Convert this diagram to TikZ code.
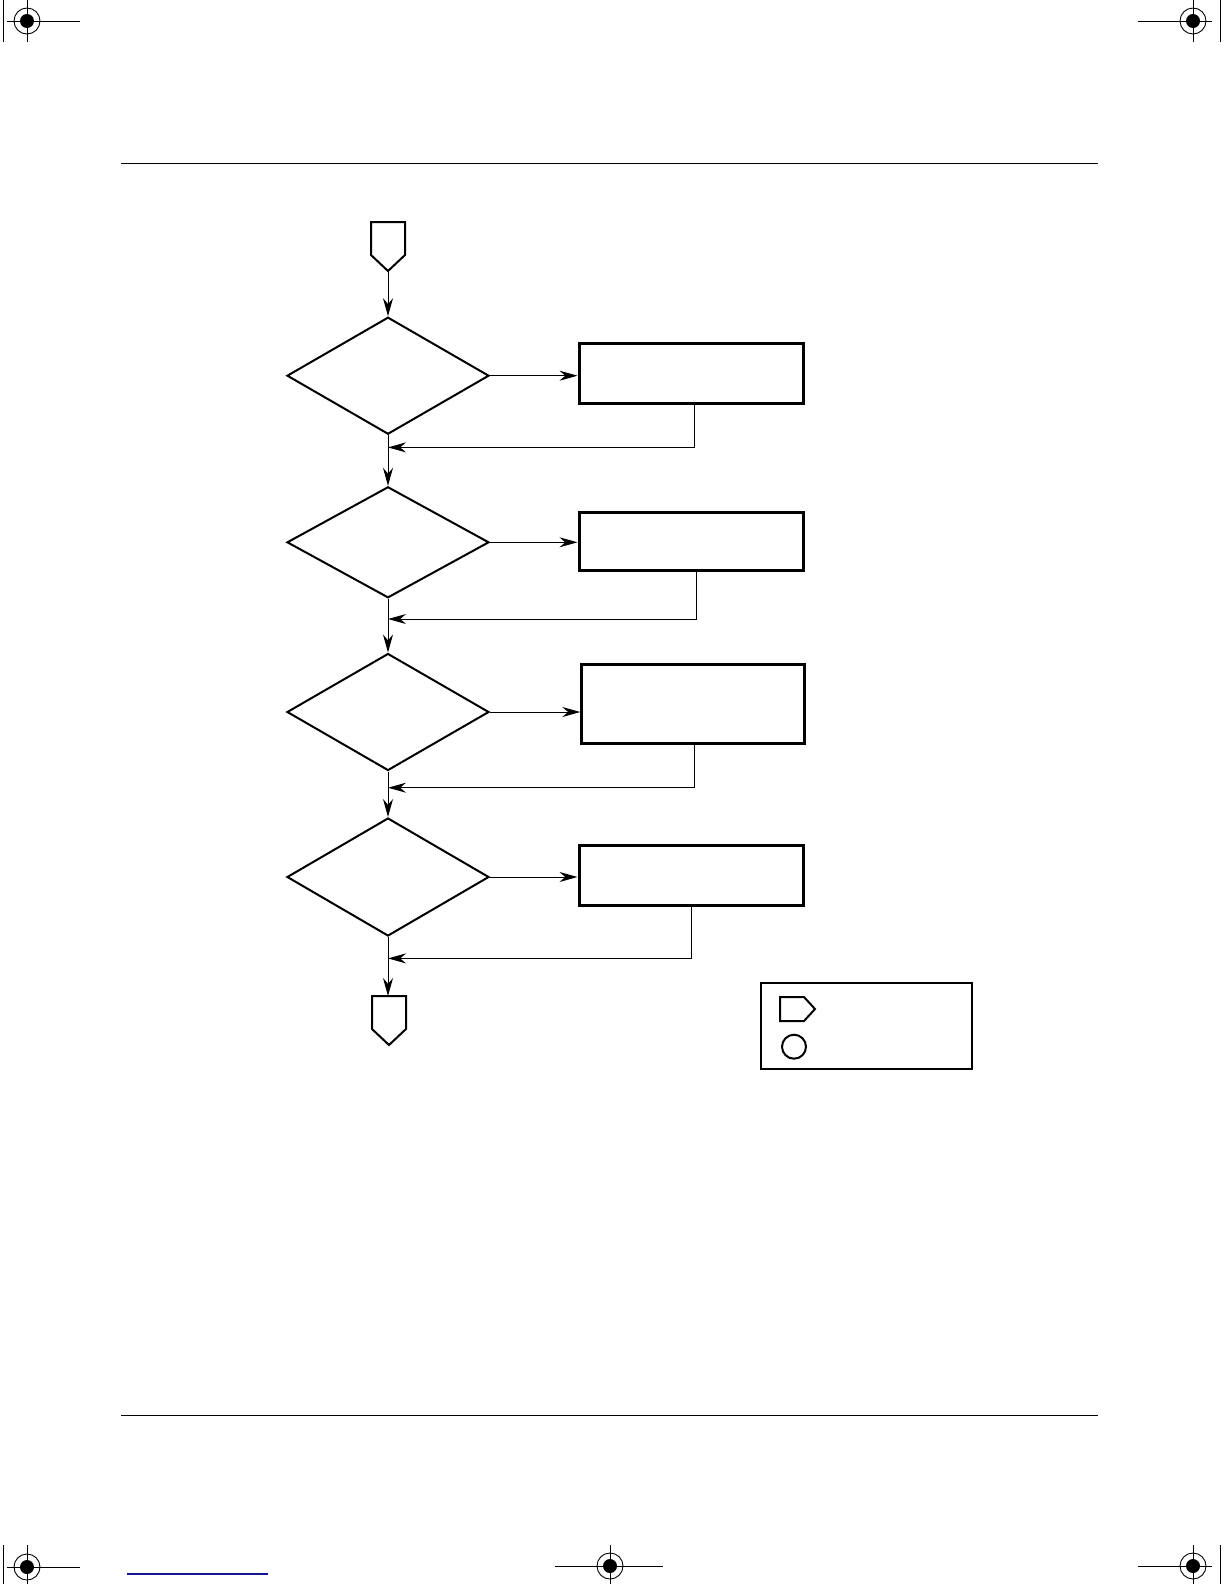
\documentclass[tikz,border=0pt]{standalone}
\usetikzlibrary{positioning,calc,arrows.meta,shapes.geometric}
\tikzset{dec/.style={draw,diamond,line width=1bp,minimum width=101bp,minimum height=58.5bp,inner sep=0pt}  }
\tikzset{act/.style={draw,rectangle,line width=1.5bp,minimum width=112bp,minimum height=29.75bp,inner sep=0pt}  }
\tikzset{flow/.style={line width=0.5bp,-{Stealth[length=9bp,width=5bp]}}  }
\tikzset{offpg/.style={line width=1bp,line join=miter}  }
\tikzset{crop/.style={line width=0.45bp}  }
\def\regmark#1#2{\draw[crop] (#1,#2) circle (13); \fill (#1,#2) circle (7);}

\begin{document}
\begin{tikzpicture}[x=0.5bp,y=-0.5bp]
	\useasboundingbox (0,0) rectangle (1224,1584);

	% printer marks
	\regmark{27}{21} \regmark{1193}{21} \regmark{27}{1567} \regmark{610}{1566} \regmark{1193}{1566}
	\draw[crop] (7,21) -- (80,21) (27,0) -- (27,42) (3,0) -- (3,42);
	\draw[crop] (1138,21) -- (1212,21) (1193,0) -- (1193,42) (1220,0) -- (1220,42);
	\draw[crop] (7,1567) -- (80,1567) (27,1545) -- (27,1584) (3,1545) -- (3,1584);
	\draw[crop] (555,1566) -- (663,1566) (610,1545) -- (610,1584);
	\draw[crop] (1138,1566) -- (1212,1566) (1193,1545) -- (1193,1584) (1220,1545) -- (1220,1584);
	\draw[line width=0.6bp,color={rgb,255:red,20;green,20;blue,150}] (127,1574) -- (268,1574);

	\draw[line width=0.5bp] (121,163.6) -- (1098,163.6);
	\draw[line width=0.5bp] (121,1415) -- (1098,1415);

	% off-page connectors
	\draw[offpg] (371,222) -- (405,222) -- (405,255) -- (388,271) -- (371,255) -- cycle;
	\coordinate (s1) at (388,271);
	\draw[offpg] (372,996) -- (406,996) -- (406,1029) -- (389,1045) -- (372,1029) -- cycle;
	\coordinate (e1) at (389,996);

	\node[dec] (d1) at (388,375.7) {};
	\node[dec,minimum height=55.5bp] (d2) at (388,542.3) {};
	\node[dec] (d3) at (388,712) {};
	\node[dec,minimum height=59bp] (d4) at (388,877) {};

	\node[act] (b1) at (691,373.5) {};
	\node[act,minimum height=29.3bp] (b2) at (691,541.3) {};
	\node[act,minimum width=111.5bp,minimum height=39.4bp] (b3) at (693.3,703.9) {};
	\node[act] (b4) at (691,875.6) {};

	\coordinate (j1) at (388,447.4);
	\coordinate (j2) at (388,619);
	\coordinate (j3) at (388,787.7);
	\coordinate (j4) at (388,958.4);

	\draw[flow] (s1) -- (d1.north);
	\draw[flow] (d1.south) -- (d2.north);
	\draw[flow] (d2.south) -- (d3.north);
	\draw[flow] (d3.south) -- (d4.north);
	\draw[flow] (d4.south) -- (d4.south |- e1);

	\draw[flow] (d1.east) -- (d1.east -| b1.west);
	\draw[flow] (d2.east) -- (d2.east -| b2.west);
	\draw[flow] (d3.east) -- (d3.east -| b3.west);
	\draw[flow] (d4.east) -- (d4.east -| b4.west);

	\draw[flow] ([xshift=1.9bp]b1.south) |- (j1);
	\draw[flow] ([xshift=2.9bp]b2.south) |- (j2);
	\draw[flow] ([xshift=0.75bp]b3.south) |- (j3);
	\draw[flow] ([xshift=0.4bp]b4.south) |- (j4);

	% legend
	\node[draw,line width=1bp,minimum width=105.5bp,minimum height=42.8bp,inner sep=0pt] (lgd) at (866.2,1026.2) {};
	\draw[offpg] (780,997) -- (804,997) -- (815,1009) -- (804,1021) -- (780,1021) -- cycle;
	\node[draw,circle,line width=1bp,minimum size=12bp,inner sep=0pt] (lc) at (794,1046.7) {};
\end{tikzpicture}
\end{document}
